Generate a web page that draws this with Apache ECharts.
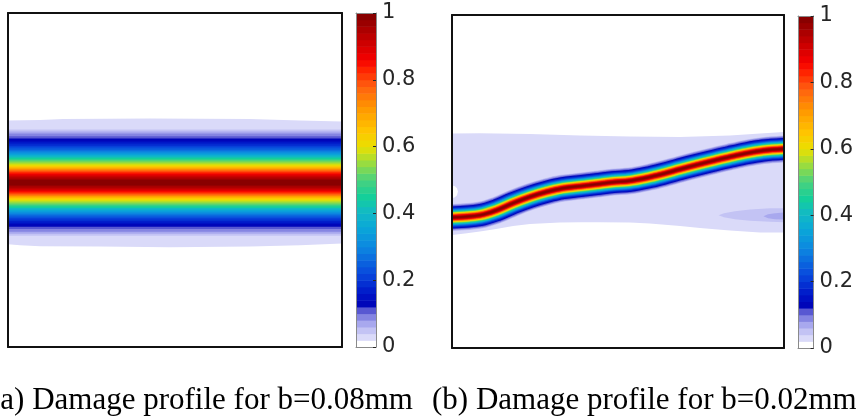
<!DOCTYPE html>
<html>
<head>
<meta charset="utf-8">
<title>Damage profiles</title>
<script src="https://cdn.jsdelivr.net/npm/echarts@6/dist/echarts.min.js"></script>
<style>
  html, body { margin: 0; padding: 0; background: #ffffff; }
  #chart { width: 856px; height: 417px; }
</style>
</head>
<body>
<div id="chart"></div>
<script>
// ---- data (domain is 1 mm x 1 mm, damage in [0, 1]) ----

// contour levels drawn as filled bands (0.02 is the outer halo outline)
const levels = [0.04, 0.06, 0.08, 0.10, 0.12, 0.14, 0.16, 0.18, 0.20, 0.22, 0.24, 0.26,
  0.28, 0.30, 0.32, 0.34, 0.36, 0.38, 0.40, 0.42, 0.44, 0.46, 0.48, 0.50, 0.52, 0.54,
  0.56, 0.58, 0.60, 0.62, 0.64, 0.66, 0.68, 0.70, 0.72, 0.74, 0.76, 0.78, 0.80, 0.82,
  0.84, 0.86, 0.88, 0.90, 0.92, 0.94, 0.96, 0.98];

// half-width (mm) of the region where damage >= level, b = 0.08 mm
const halfWidthA = [0.159, 0.153, 0.147, 0.139, 0.132, 0.124, 0.120, 0.115, 0.110, 0.106,
  0.102, 0.098, 0.095, 0.092, 0.089, 0.086, 0.083, 0.081, 0.078, 0.076, 0.074, 0.071,
  0.069, 0.067, 0.064, 0.061, 0.058, 0.055, 0.052, 0.050, 0.048, 0.046, 0.044, 0.042,
  0.040, 0.039, 0.037, 0.035, 0.033, 0.031, 0.028, 0.026, 0.024, 0.021, 0.018, 0.015,
  0.011, 0.008];

// half-width (mm) of the region where damage >= level, b = 0.02 mm
const halfWidthB = [0.0405, 0.0390, 0.0372, 0.0351, 0.0330, 0.0312, 0.0300, 0.0285,
  0.0273, 0.0261, 0.0252, 0.0243, 0.0234, 0.0225, 0.0219, 0.0210, 0.0204, 0.0198,
  0.0192, 0.0186, 0.0180, 0.0174, 0.0168, 0.0162, 0.0156, 0.0150, 0.0144, 0.0138,
  0.0132, 0.0126, 0.0120, 0.0116, 0.0111, 0.0107, 0.0102, 0.0098, 0.0093, 0.0087,
  0.0081, 0.0075, 0.0069, 0.0063, 0.0057, 0.0051, 0.0045, 0.0038, 0.0030, 0.0021];

// crack path (a): straight horizontal crack
const pathAx = [0, 1];
const pathAy = [0.492, 0.492];

// crack path (b): curved crack centreline
const pathBx = [0, 0.084, 0.135, 0.184, 0.235, 0.285, 0.334, 0.386, 0.436, 0.485,
  0.536, 0.586, 0.636, 0.687, 0.737, 0.786, 0.837, 0.888, 0.937, 1];
const pathBy = [0.392, 0.399, 0.414, 0.435, 0.454, 0.469, 0.480, 0.486, 0.492, 0.498,
  0.502, 0.511, 0.523, 0.537, 0.550, 0.562, 0.574, 0.585, 0.593, 0.598];

// outline of the damage >= 0.02 halo
const haloA = [[0, 0.678], [0.096, 0.680], [0.165, 0.683], [0.425, 0.684], [0.725, 0.683],
  [0.874, 0.678], [1, 0.675], [1, 0.310], [0.874, 0.305], [0.725, 0.301], [0.485, 0.299],
  [0.275, 0.301], [0.096, 0.302], [0.036, 0.305], [0, 0.308]];

const haloB = [[0, 0.644], [0.084, 0.645], [0.235, 0.643], [0.386, 0.638], [0.536, 0.635],
  [0.687, 0.634], [0.837, 0.638], [0.928, 0.644], [1, 0.649], [1, 0.347], [0.928, 0.347],
  [0.837, 0.353], [0.747, 0.360], [0.687, 0.366], [0.596, 0.374], [0.536, 0.377],
  [0.446, 0.378], [0.386, 0.378], [0.325, 0.377], [0.235, 0.372], [0.184, 0.366],
  [0.133, 0.357], [0.084, 0.350], [0.039, 0.344], [0, 0.339], [0, 0.450], [0.009, 0.453],
  [0.015, 0.459], [0.018, 0.470], [0.015, 0.480], [0.009, 0.486], [0, 0.488]];

// small damaged lobe at the right edge of (b): damage >= 0.04 and >= 0.06
const lobeB = [[1, 0.420], [0.958, 0.420], [0.898, 0.416], [0.852, 0.411], [0.819, 0.405],
  [0.803, 0.399], [0.819, 0.393], [0.852, 0.387], [0.898, 0.382], [0.958, 0.379], [1, 0.378]];
const lobeCoreB = [[1, 0.407], [0.973, 0.405], [0.952, 0.402], [0.938, 0.396],
  [0.952, 0.390], [0.973, 0.387], [1, 0.386]];

const colorbarTicks = [0, 0.2, 0.4, 0.6, 0.8, 1];
const captions = ['(a) Damage profile for b=0.08mm', '(b) Damage profile for b=0.02mm'];

// ---- colour map: white-to-lavender foot, then a jet-like ramp ----
const footColors = ['#ffffff', '#dadaf9', '#c3c3f4', '#a8a8ee', '#8585e2', '#5858d2'];
const rampAnchors = [
  [0.12, '#0000b4'], [0.16, '#0016c8'], [0.22, '#0848dc'], [0.30, '#0c88e0'],
  [0.36, '#0aa8d8'], [0.41, '#12bcc0'], [0.45, '#14cf9a'], [0.50, '#48d27e'],
  [0.55, '#98dc40'], [0.60, '#eae000'], [0.65, '#ffc400'], [0.72, '#ff9400'],
  [0.78, '#ff6010'], [0.83, '#ff2400'], [0.86, '#f60000'], [0.92, '#c60000'],
  [1.00, '#800000']
];
const step = 0.02;
const nBands = 50;

function hexToRgb(h) {
  return [parseInt(h.slice(1, 3), 16), parseInt(h.slice(3, 5), 16), parseInt(h.slice(5, 7), 16)];
}
function rampColor(v) {
  for (let i = 1; i < rampAnchors.length; i++) {
    const [v1, c1] = rampAnchors[i];
    const [v0, c0] = rampAnchors[i - 1];
    if (v <= v1 || i === rampAnchors.length - 1) {
      const t = Math.max(0, Math.min(1, (v - v0) / (v1 - v0)));
      const a = hexToRgb(c0), b = hexToRgb(c1);
      return 'rgb(' + a.map((x, k) => Math.round(x + (b[k] - x) * t)).join(',') + ')';
    }
  }
}
const bandColors = [];
for (let k = 0; k < nBands; k++) {
  bandColors.push(k < footColors.length ? footColors[k] : rampColor((k + 0.5) * step));
}
function colorOfLevel(level) {
  return bandColors[Math.min(nBands - 1, Math.round(level / step))];
}

// ---- shapes for each panel: outlined regions and bands around the crack path ----
const shapesA = [{ kind: 'region', pts: haloA, color: colorOfLevel(0.02) }];
levels.forEach((lv, i) => shapesA.push({ kind: 'band', px: pathAx, py: pathAy, w: halfWidthA[i], color: colorOfLevel(lv) }));

const shapesB = [
  { kind: 'region', pts: haloB, color: colorOfLevel(0.02) },
  { kind: 'region', pts: lobeB, color: colorOfLevel(0.04) },
  { kind: 'region', pts: lobeCoreB, color: colorOfLevel(0.06) }
];
levels.forEach((lv, i) => shapesB.push({ kind: 'band', px: pathBx, py: pathBy, w: halfWidthB[i], color: colorOfLevel(lv) }));

// colour bar bands [lo, hi]
const barEdges = [0, 0.02].concat(levels, [1]);
const barData = [];
for (let k = 0; k < barEdges.length - 1; k++) barData.push([barEdges[k], barEdges[k + 1], k]);

// ---- layout ----
const panels = [
  { field: { left: 8, top: 13, width: 334, height: 334 }, bar: { left: 356, top: 13, width: 20, height: 334 }, captionLeft: -10 },
  { field: { left: 452, top: 15, width: 332, height: 333 }, bar: { left: 798, top: 16, width: 20, height: 332 }, captionLeft: 432 }
];

const grids = [], xAxes = [], yAxes = [], series = [], titles = [];

function frameAxes(gridIndex, color, width) {
  const line = { show: true, onZero: false, lineStyle: { color: color, width: width } };
  const base = {
    type: 'value', min: 0, max: 1, gridIndex: gridIndex, z: 10,
    axisLine: line, axisTick: { show: false }, axisLabel: { show: false }, splitLine: { show: false }
  };
  xAxes.push(Object.assign({}, base, { position: 'bottom' }));
  xAxes.push(Object.assign({}, base, { position: 'top' }));
  yAxes.push(Object.assign({}, base, { position: 'left' }));
  yAxes.push(Object.assign({}, base, { position: 'right' }));
}

panels.forEach((p, pi) => {
  const shapes = pi === 0 ? shapesA : shapesB;
  const gField = grids.length;
  grids.push(Object.assign({ containLabel: false }, p.field));
  frameAxes(gField, '#111111', 2);
  series.push({
    type: 'custom',
    xAxisIndex: gField * 2, yAxisIndex: gField * 2,
    clip: true, z: 2, silent: true,
    data: shapes.map((s, i) => [i]),
    renderItem: function (params, api) {
      const s = shapes[params.dataIndex];
      if (s.kind === 'region') {
        return {
          type: 'polygon',
          shape: { points: s.pts.map(pt => api.coord(pt)) },
          style: { fill: s.color, stroke: null }
        };
      }
      // band of constant distance from the crack path: a stroked, smoothed centreline
      const pts = s.px.map((x, i) => api.coord([x, s.py[i]]));
      const thick = api.size([0, 2 * s.w])[1];
      return {
        type: 'polyline',
        shape: { points: pts, smooth: 0.35 },
        style: { stroke: s.color, lineWidth: thick, fill: null, lineCap: 'square', lineJoin: 'round' }
      };
    }
  });

  const gBar = grids.length;
  grids.push(Object.assign({ containLabel: false }, p.bar));
  frameAxes(gBar, '#8a8a8a', 1);
  // right axis of the colour bar carries the ticks and labels
  const yr = yAxes[gBar * 2 + 1];
  yr.interval = 0.2;
  yr.axisTick = { show: true, inside: true, length: 3, lineStyle: { color: '#262626', width: 1 } };
  yr.axisLabel = {
    show: true, color: '#262626', fontSize: 21, fontFamily: 'DejaVu Sans', margin: 6,
    formatter: v => (colorbarTicks.indexOf(Math.round(v * 10) / 10) >= 0 ? String(Math.round(v * 10) / 10) : '')
  };
  series.push({
    type: 'custom',
    xAxisIndex: gBar * 2, yAxisIndex: gBar * 2 + 1,
    clip: true, z: 2, silent: true,
    data: barData,
    renderItem: function (params, api) {
      const lo = api.value(0), hi = api.value(1), k = api.value(2);
      const a = api.coord([0, hi]);
      const b = api.coord([1, lo]);
      return {
        type: 'rect',
        shape: { x: a[0], y: a[1], width: b[0] - a[0], height: b[1] - a[1] + 0.5 },
        style: { fill: bandColors[k], stroke: null }
      };
    },
    encode: { x: -1, y: [0, 1] }
  });

  titles.push({
    text: captions[pi], left: p.captionLeft, top: 385, padding: 0,
    textStyle: { fontFamily: 'Liberation Serif', fontSize: 31, fontWeight: 'normal', color: '#000000' }
  });
});

const chart = echarts.init(document.getElementById('chart'));
chart.setOption({
  animation: false,
  backgroundColor: '#ffffff',
  title: titles,
  grid: grids,
  xAxis: xAxes,
  yAxis: yAxes,
  series: series
});
</script>
</body>
</html>
